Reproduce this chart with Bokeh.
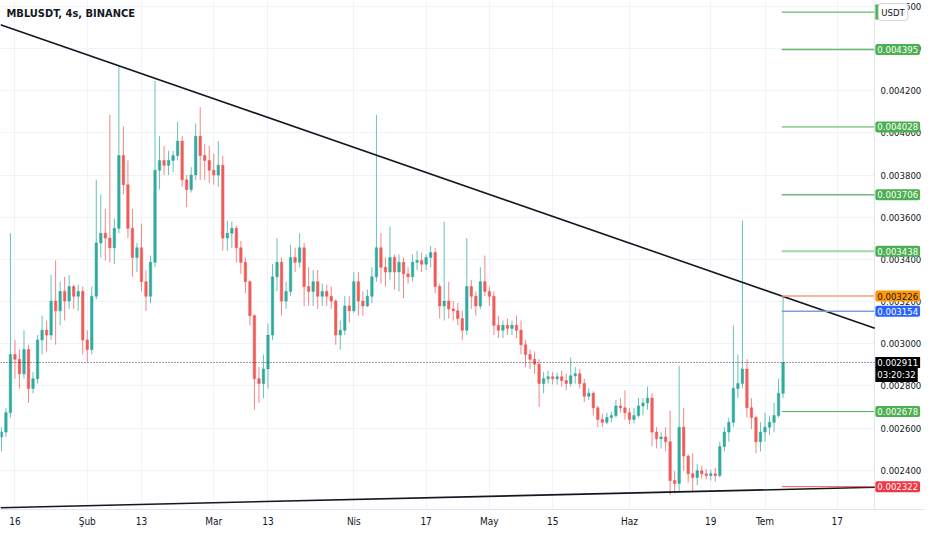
from bokeh.plotting import figure
from bokeh.models import Range1d, FixedTicker, PrintfTickFormatter, Label, ColumnDataSource, Span, BoxAnnotation
from bokeh.embed import file_html
from bokeh.resources import INLINE

# ---------------- data (prices in units of 1e-6 USDT) ----------------
first_day = 12  # days since 1 Jan (0-based), one candle per day
open_u = [2558, 2581, 2673, 2949, 2926, 2857, 2972, 2788, 2834, 3018,
          3064, 3041, 3202, 3156, 3248, 3202, 3271, 3225, 3248, 3018,
          2972, 3225, 3478, 3524, 3501, 3455, 3547, 3892, 3754, 3547,
          3409, 3455, 3294, 3225, 3386, 3823, 3869, 3846, 3869, 3892,
          3961, 3777, 3731, 3800, 3984, 3892, 3869, 3823, 3800, 3846,
          3501, 3524, 3547, 3455, 3386, 3294, 3133, 2834, 2811, 2880,
          3041, 3317, 3386, 3202, 3248, 3409, 3386, 3455, 3271, 3248,
          3294, 3225, 3248, 3225, 3202, 3041, 3064, 3179, 3156, 3294,
          3202, 3179, 3225, 3317, 3455, 3363, 3340, 3409, 3340, 3386,
          3331, 3317, 3386, 3395, 3377, 3409, 3432, 3271, 3179, 3202,
          3165, 3156, 3119, 3064, 3271, 3225, 3179, 3294, 3248, 3225,
          3087, 3064, 3087, 3073, 3087, 3064, 2995, 2949, 2926, 2903,
          2811, 2834, 2843, 2834, 2843, 2825, 2811, 2848, 2857, 2811,
          2751, 2765, 2696, 2641, 2627, 2650, 2659, 2705, 2696, 2673,
          2641, 2659, 2705, 2719, 2742, 2581, 2549, 2558, 2535, 2351,
          2337, 2604, 2467, 2383, 2365, 2397, 2383, 2375, 2383, 2375,
          2512, 2581, 2627, 2788, 2811, 2880, 2696, 2650, 2535, 2581,
          2604, 2627, 2659, 2765]
high_u = [2604, 2696, 3524, 3018, 2972, 3064, 2995, 2866, 3041, 3133,
          3110, 3326, 3395, 3294, 3317, 3326, 3280, 3280, 3271, 3064,
          3271, 3777, 3708, 3639, 4085, 3593, 4320, 4030, 3869, 3639,
          3478, 3570, 3349, 3418, 4246, 3984, 3938, 3915, 3915, 4053,
          3984, 3800, 3837, 4044, 4122, 3947, 3938, 3901, 3961, 3892,
          3584, 3579, 3561, 3487, 3409, 3300, 3140, 2889, 2949, 3096,
          3377, 3501, 3409, 3294, 3469, 3455, 3524, 3478, 3363, 3349,
          3349, 3285, 3280, 3271, 3211, 3110, 3225, 3225, 3340, 3340,
          3248, 3257, 3363, 4085, 3524, 3409, 3556, 3423, 3423, 3409,
          3363, 3423, 3441, 3432, 3423, 3464, 3455, 3285, 3579, 3294,
          3202, 3193, 3156, 3501, 3303, 3248, 3363, 3418, 3271, 3248,
          3133, 3110, 3119, 3110, 3133, 3110, 3018, 2972, 2963, 2926,
          2866, 2871, 2866, 2862, 2871, 2857, 2935, 2889, 2880, 2834,
          2788, 2774, 2705, 2668, 2673, 2678, 2733, 2742, 2779, 2696,
          2696, 2742, 2742, 2797, 2765, 2604, 2581, 2604, 2682, 2397,
          2894, 2696, 2475, 2480, 2429, 2421, 2406, 2402, 2411, 2535,
          2604, 2650, 3087, 2949, 3584, 2926, 2742, 2659, 2627, 2673,
          2659, 2719, 2834, 3226]
low_u = [2489, 2558, 2650, 2834, 2788, 2834, 2719, 2765, 2811, 2949,
         2963, 3018, 2995, 3087, 3110, 3165, 3165, 3156, 2949, 2912,
         2949, 3210, 3409, 3395, 3386, 3377, 3524, 3708, 3501, 3317,
         3340, 3248, 3156, 3193, 3363, 3731, 3800, 3800, 3814, 3869,
         3745, 3648, 3717, 3777, 3777, 3777, 3763, 3754, 3745, 3441,
         3441, 3455, 3386, 3331, 3239, 3087, 2687, 2719, 2742, 2788,
         3018, 3248, 3133, 3165, 3225, 3340, 3363, 3179, 3179, 3179,
         3165, 3179, 3179, 3165, 2995, 2972, 3041, 3101, 3147, 3133,
         3133, 3174, 3193, 3294, 3285, 3271, 3303, 3257, 3248, 3216,
         3285, 3294, 3349, 3340, 3349, 3363, 3239, 3119, 3110, 3119,
         3110, 3087, 3018, 3041, 3165, 3133, 3165, 3225, 3179, 3041,
         3027, 3027, 3041, 3041, 3027, 2949, 2889, 2880, 2857, 2701,
         2765, 2811, 2806, 2806, 2797, 2779, 2797, 2811, 2788, 2724,
         2733, 2659, 2604, 2604, 2618, 2627, 2650, 2673, 2641, 2618,
         2622, 2650, 2659, 2687, 2513, 2503, 2503, 2489, 2283, 2291,
         2296, 2397, 2342, 2296, 2329, 2360, 2356, 2351, 2346, 2365,
         2489, 2535, 2604, 2742, 2788, 2650, 2595, 2480, 2489, 2535,
         2567, 2581, 2650, 2742]
close_u = [2581, 2673, 2949, 2926, 2857, 2972, 2788, 2834, 3018, 3064,
           3041, 3202, 3156, 3248, 3202, 3271, 3225, 3248, 3018, 2972,
           3225, 3478, 3524, 3501, 3455, 3547, 3892, 3754, 3547, 3409,
           3455, 3294, 3225, 3386, 3823, 3869, 3846, 3869, 3892, 3961,
           3777, 3731, 3800, 3984, 3892, 3869, 3823, 3800, 3846, 3501,
           3524, 3547, 3455, 3386, 3294, 3133, 2834, 2811, 2880, 3041,
           3317, 3386, 3202, 3248, 3409, 3386, 3455, 3271, 3248, 3294,
           3225, 3248, 3225, 3202, 3041, 3064, 3179, 3156, 3294, 3202,
           3179, 3225, 3317, 3455, 3363, 3340, 3409, 3340, 3386, 3331,
           3317, 3386, 3395, 3377, 3409, 3432, 3271, 3179, 3202, 3165,
           3156, 3119, 3064, 3271, 3225, 3179, 3294, 3248, 3225, 3087,
           3064, 3087, 3073, 3087, 3064, 2995, 2949, 2926, 2903, 2811,
           2834, 2843, 2834, 2843, 2825, 2811, 2848, 2857, 2811, 2751,
           2765, 2696, 2641, 2627, 2650, 2659, 2705, 2696, 2673, 2641,
           2659, 2705, 2719, 2742, 2581, 2549, 2558, 2535, 2351, 2337,
           2604, 2467, 2383, 2365, 2397, 2383, 2375, 2383, 2375, 2512,
           2581, 2627, 2788, 2811, 2880, 2696, 2650, 2535, 2581, 2604,
           2627, 2659, 2765, 2911]

# time axis ticks (days since 1 Jan) and their labels
tick_days = [15, 31, 43, 59, 71, 90, 106, 120, 134, 151, 169, 181, 197]
tick_labels = ["16", "Şub", "13", "Mar", "13", "Nis", "17", "May", "15", "Haz", "19", "Tem", "17"]
price_ticks = [0.0024, 0.0026, 0.0028, 0.0030, 0.0032, 0.0034, 0.0036, 0.0038, 0.0040, 0.0042, 0.0044, 0.0046]

# drawn trend lines (day, price)
upper_trend_days = [11.8, 205.3]
upper_trend_prices = [0.004513, 0.003073]
lower_trend_days = [11.8, 205.3]
lower_trend_prices = [0.002222, 0.002319]

# horizontal levels starting at last candle
level_start_day = 184.7
hidden_level = 0.004573          # level whose label sits under the currency tag
level_prices = [0.004395, 0.004028, 0.003706, 0.003438, 0.003226, 0.003154, 0.002678, 0.002322]
level_line_colors = ["#66bb6a", "#4caf50", "#388e3c", "#a5d6a7", "#f5a27e", "#7d9fd6", "#4caf50", "#ef5b5b"]
level_line_widths = [1.5, 1, 1, 2, 1.5, 1.5, 1, 1]
level_label_colors = ["#4caf50", "#4caf50", "#4caf50", "#4caf50", "#ff9800", "#2962ff", "#4caf50", "#f23645"]
level_text_colors = ["white", "white", "white", "white", "#131722", "white", "white", "white"]
last_price = 0.002911
countdown = "03:20:32"

# ---------------- figure ----------------
U = 1e-6
X0, X1 = 11.8, 205.2          # chart pane (days)
XSCALE = 216.3                # right end incl. price-scale strip
Y0, Y1 = 0.0022137, 0.0046277

o = [v * U for v in open_u]
h = [v * U for v in high_u]
l = [v * U for v in low_u]
c = [v * U for v in close_u]
days = [first_day + i for i in range(len(close_u))]
col = ["#26a69a" if cc >= oo else "#ef5350" for oo, cc in zip(o, c)]

src = ColumnDataSource(dict(x=days, o=o, h=h, l=l, c=c, col=col))

p = figure(width=924, height=534, output_backend="svg", toolbar_location=None,
           x_range=Range1d(X0, XSCALE), y_range=Range1d(Y0, Y1),
           y_axis_location="right",
           min_border_left=0, min_border_top=0, min_border_right=0, min_border_bottom=25)
p.outline_line_color = None
p.background_fill_color = "white"
p.border_fill_color = "white"

FONT = "DejaVu Sans Condensed, sans-serif"
PFS = "9.5px"

# axes
p.yaxis.ticker = FixedTicker(ticks=price_ticks)
p.yaxis.formatter = PrintfTickFormatter(format="%.6f")
p.xaxis.ticker = FixedTicker(ticks=tick_days)
p.xaxis.major_label_overrides = {d: t for d, t in zip(tick_days, tick_labels)}
for ax in (p.xaxis, p.yaxis):
    ax.major_tick_line_color = None
    ax.minor_tick_line_color = None
    ax.major_tick_out = 0
    ax.major_tick_in = 0
    ax.minor_tick_out = 0
    ax.major_label_text_color = "#131722"
    ax.major_label_text_font = FONT
p.xaxis.major_label_text_font_size = "10px"
p.yaxis.major_label_text_font_size = PFS
p.xaxis.axis_line_color = "#e0e3eb"
p.yaxis.axis_line_color = None
p.yaxis.major_label_standoff = -44   # price labels drawn inside the price-scale strip
p.xaxis.major_label_standoff = 6

p.xgrid.ticker = FixedTicker(ticks=tick_days)
p.ygrid.ticker = FixedTicker(ticks=price_ticks)
p.xgrid.grid_line_color = "#f0f3fa"
p.ygrid.grid_line_color = "#f0f3fa"

# blank price-scale strip (hides grid) and its separator
p.add_layout(BoxAnnotation(left=X1, fill_color="white", fill_alpha=1, line_color=None, level="underlay"))
p.add_layout(Span(location=X1, dimension="height", line_color="#e0e3eb", line_width=1, level="underlay"))

# candles
p.segment(x0="x", y0="l", x1="x", y1="h", source=src, line_color="col", line_width=1, line_alpha=0.7)
p.vbar(x="x", width=0.55, top="o", bottom="c", source=src, fill_color="col", line_color="col",
       line_width=0.5, fill_alpha=0.9)

# trend lines
p.line(upper_trend_days, upper_trend_prices, line_color="#131722", line_width=1.6)
p.line(lower_trend_days, lower_trend_prices, line_color="#131722", line_width=1.6)

# last price dotted line
p.segment(x0=[X0], y0=[last_price], x1=[X1], y1=[last_price], line_color="#131722",
          line_width=1, line_dash="1 2", line_alpha=0.85)

# level lines
all_levels = [hidden_level] + level_prices
p.segment(x0=[level_start_day] * len(all_levels), y0=all_levels,
          x1=[X1] * len(all_levels), y1=all_levels,
          line_color=["#66bb6a"] + level_line_colors, line_width=[1.2] + level_line_widths)

# price-scale labels
for lv, bg, tc in zip(level_prices, level_label_colors, level_text_colors):
    p.add_layout(Label(x=X1, y=lv, x_offset=1, text=f"{lv:.6f}", text_align="left",
                       text_baseline="middle", text_font=FONT, text_font_size=PFS,
                       text_color=tc, background_fill_color=bg, padding=2, border_radius=2))

# hidden level tag (only a sliver shows) + currency tag
p.add_layout(Label(x=X1, y=hidden_level, x_offset=1, text=" ", text_align="left",
                   text_baseline="middle", text_font=FONT, text_font_size=PFS,
                   text_color="white", background_fill_color="#4caf50", padding=2))
p.add_layout(Label(x=X1, y=hidden_level, x_offset=4, text="USDT", text_align="left",
                   text_baseline="middle", text_font=FONT, text_font_size=PFS,
                   text_color="#131722", background_fill_color="white",
                   border_line_color="#d1d4dc", padding=3, border_radius=3))

p.add_layout(Label(x=X1, y=last_price, x_offset=1, y_offset=-12, text=countdown, text_align="left",
                   text_baseline="middle", text_font=FONT, text_font_size=PFS,
                   text_color="white", background_fill_color="#000000", padding=2))
p.add_layout(Label(x=X1, y=last_price, x_offset=1, text=f"{last_price:.6f}", text_align="left",
                   text_baseline="middle", text_font=FONT, text_font_size=PFS,
                   text_color="white", background_fill_color="#000000", padding=2))

# title
p.add_layout(Label(x=X0, y=Y1, x_offset=6, y_offset=-13, text="MBLUSDT, 4s, BINANCE",
                   text_align="left", text_baseline="middle", text_font=FONT,
                   text_font_size="11px", text_font_style="bold", text_color="#131722"))

open("out.html", "w").write(file_html(p, INLINE))
